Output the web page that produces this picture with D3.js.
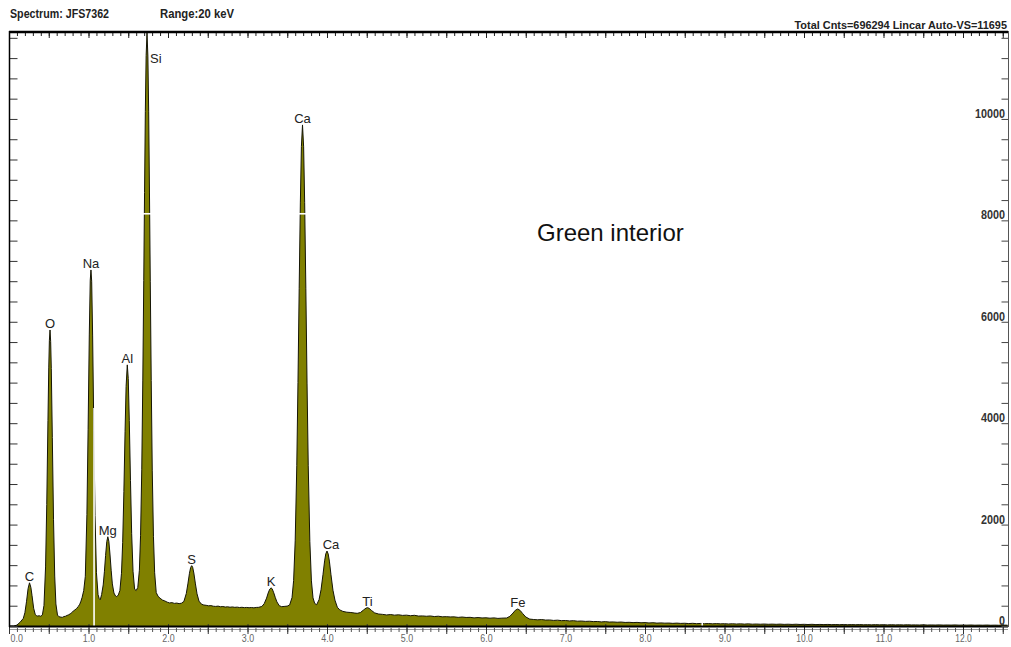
<!DOCTYPE html>
<html>
<head>
<meta charset="utf-8">
<script src="https://cdn.jsdelivr.net/npm/d3@7/dist/d3.min.js"></script>
<style>
  body { margin: 0; background: #fff; }
  svg { display: block; }
</style>
</head>
<body>
<svg id="chart" width="1011" height="647"></svg>
<script>
// EDS spectrum: [energy keV, counts]
const spectrum = [
  [0.00,0],[0.06,0],[0.10,18],[0.14,74],[0.18,150],[0.20,262],[0.22,478],[0.24,738],[0.258,852],
  [0.275,762],[0.29,596],[0.31,350],[0.33,228],[0.345,205],[0.36,196],[0.38,202],[0.40,192],[0.42,218],
  [0.44,405],[0.46,1165],[0.475,2395],[0.49,4055],[0.50,5090],[0.508,5635],[0.516,5838],[0.524,5610],
  [0.532,5080],[0.545,3715],[0.56,2095],[0.575,985],[0.59,435],[0.61,215],[0.63,182],[0.65,176],
  [0.67,170],[0.69,186],[0.71,192],[0.73,208],[0.75,221],[0.77,240],[0.79,262],[0.81,298],[0.83,318],
  [0.85,345],[0.87,382],[0.89,430],[0.905,490],[0.92,565],[0.94,700],[0.96,980],[0.98,2200],
  [0.995,3870],[1.01,5740],[1.022,6820],[1.031,7022],[1.04,6800],[1.052,5720],[1.067,3850],
  [1.082,2180],[1.10,1050],[1.12,620],[1.135,540],[1.148,518],[1.165,620],[1.185,810],[1.20,1070],
  [1.215,1390],[1.23,1665],[1.243,1760],[1.256,1670],[1.27,1420],[1.285,1100],[1.30,830],[1.32,650],
  [1.34,592],[1.355,578],[1.375,612],[1.395,700],[1.415,1040],[1.43,1650],[1.445,2650],[1.46,3840],
  [1.473,4725],[1.488,5150],[1.50,4880],[1.513,4055],[1.528,2870],[1.543,1820],[1.56,1080],[1.58,725],
  [1.60,700],[1.62,760],[1.64,1100],[1.655,1790],[1.67,3080],[1.683,4850],[1.695,6815],[1.705,8550],
  [1.715,10150],[1.725,11250],[1.736,11695],[1.747,11240],[1.757,10140],[1.767,8540],[1.777,6800],
  [1.789,4840],[1.802,3060],[1.817,1770],[1.832,1050],[1.852,660],[1.875,585],[1.90,548],[1.93,512],
  [1.96,494],[1.99,470],[2.02,455],[2.05,461],[2.08,446],[2.11,452],[2.14,441],[2.17,450],[2.20,485],
  [2.23,640],[2.25,830],[2.27,1040],[2.285,1155],[2.298,1190],[2.31,1160],[2.325,1045],[2.345,830],
  [2.365,635],[2.39,490],[2.42,432],[2.45,414],[2.48,408],[2.51,398],[2.54,402],[2.57,390],[2.60,386],
  [2.63,392],[2.66,380],[2.69,384],[2.72,374],[2.75,379],[2.78,370],[2.81,376],[2.84,368],[2.87,372],
  [2.90,364],[2.93,369],[2.96,362],[2.99,366],[3.02,360],[3.05,365],[3.08,358],[3.11,366],[3.14,368],
  [3.18,385],[3.21,440],[3.24,550],[3.26,650],[3.28,727],[3.296,752],[3.31,735],[3.33,655],[3.35,560],
  [3.37,475],[3.40,400],[3.43,381],[3.46,386],[3.50,392],[3.53,415],[3.56,560],[3.58,895],[3.60,1680],
  [3.62,3170],[3.635,4800],[3.65,6660],[3.665,8360],[3.678,9455],[3.692,9882],[3.706,9450],
  [3.719,8350],[3.734,6650],[3.749,4790],[3.764,3160],[3.784,1670],[3.804,890],[3.824,555],
  [3.845,445],[3.87,420],[3.90,520],[3.925,715],[3.95,1020],[3.97,1285],[3.985,1425],[4.00,1478],
  [4.015,1420],[4.03,1280],[4.05,1010],[4.075,705],[4.10,510],[4.13,370],[4.16,318],[4.20,288],
  [4.25,272],[4.30,266],[4.35,255],[4.38,250],[4.42,265],[4.46,316],[4.49,352],[4.51,362],[4.53,348],
  [4.56,306],[4.60,258],[4.65,236],[4.70,229],[4.75,218],[4.80,226],[4.85,214],[4.90,221],[4.95,209],
  [5.00,214],[5.05,203],[5.10,211],[5.15,196],[5.20,199],[5.25,192],[5.30,198],[5.35,186],[5.40,193],
  [5.45,181],[5.50,184],[5.55,179],[5.60,180],[5.65,170],[5.70,177],[5.75,168],[5.80,171],[5.85,160],
  [5.90,167],[5.95,159],[6.00,162],[6.05,154],[6.10,160],[6.15,150],[6.20,155],[6.26,158],[6.30,190],
  [6.34,256],[6.37,312],[6.40,336],[6.43,306],[6.46,248],[6.50,178],[6.55,136],[6.60,128],[6.65,122],
  [6.70,127],[6.75,117],[6.80,119],[6.85,110],[6.90,115],[6.95,106],[7.00,108],[7.05,100],[7.10,105],
  [7.15,95],[7.20,98],[7.25,91],[7.30,94],[7.35,87],[7.40,89],[7.45,81],[7.50,86],[7.55,78],[7.60,80],
  [7.65,74],[7.70,78],[7.75,70],[7.80,73],[7.85,67],[7.90,71],[7.95,64],[8.00,67],[8.05,60],[8.10,65],
  [8.15,57],[8.20,61],[8.25,56],[8.30,58],[8.35,52],[8.40,57],[8.45,51],[8.50,54],[8.55,48],[8.60,53],
  [8.65,46],[8.70,50],[8.75,45],[8.80,48],[8.85,43],[8.90,47],[8.95,42],[9.00,45],[9.05,40],[9.10,44],
  [9.15,39],[9.20,42],[9.25,37],[9.30,42],[9.35,36],[9.40,39],[9.45,35],[9.50,39],[9.55,34],[9.60,37],
  [9.65,33],[9.70,37],[9.75,32],[9.80,35],[9.85,31],[9.90,35],[9.95,30],[10.00,33],[10.05,29],
  [10.10,33],[10.15,28],[10.20,31],[10.25,28],[10.30,31],[10.35,27],[10.40,29],[10.45,26],[10.50,30],
  [10.55,25],[10.60,28],[10.65,25],[10.70,28],[10.75,24],[10.80,26],[10.85,23],[10.90,27],[10.95,23],
  [11.00,25],[11.05,22],[11.10,25],[11.15,22],[11.20,24],[11.25,21],[11.30,24],[11.35,21],[11.40,22],
  [11.45,20],[11.50,23],[11.55,19],[11.60,21],[11.65,19],[11.70,22],[11.75,18],[11.80,20],[11.85,18],
  [11.90,21],[11.95,17],[12.00,19],[12.05,17],[12.10,20],[12.15,16],[12.20,18],[12.25,16],[12.30,19],
  [12.35,15],[12.40,17],[12.45,15],[12.50,18],[12.56,16]
];

// element lines marked on the spectrum
const elements   = ["C", "O", "Na", "Mg", "Al", "Si", "S", "K", "Ca", "Ca", "Ti", "Fe"];
const lineEnergy = [0.258, 0.516, 1.031, 1.243, 1.488, 1.736, 2.298, 3.296, 3.692, 4.00, 4.51, 6.40];

// axis ticks and labels
const energyLabels = [0, 1, 2, 3, 4, 5, 6, 7, 8, 9, 10, 11, 12];
const countLabels  = [0, 2000, 4000, 6000, 8000, 10000];
const countTickStep = 400;
const fullScale = 11695;          // Auto-VS
const maxEnergy = 12.566;

// cursor / marker positions
const markerEnergies = [1.07, 8.72];
const markerCount = 8130;

const headerLeft  = "Spectrum: JFS7362";
const headerMid   = "Range:20  keV";
const headerRight = "Total Cnts=696294 Lincar  Auto-VS=11695";
const annotation  = "Green interior";

const svg = d3.select("#chart");
const narrow = "'Liberation Sans Narrow', 'Arial Narrow', 'Liberation Sans', Arial, sans-serif";
const sans = "'Liberation Sans', Arial, Helvetica, sans-serif";

const x = d3.scaleLinear().domain([0, maxEnergy]).range([9, 1008]);
const y = d3.scaleLinear().domain([0, fullScale]).range([626, 33]);

// filled spectrum
const area = d3.area().x(d => x(d[0])).y0(y(0)).y1(d => y(d[1]));
const line = d3.line().x(d => x(d[0])).y(d => y(d[1]));
svg.append("path").datum(spectrum).attr("d", area).attr("fill", "#808000");
svg.append("path").datum(spectrum).attr("d", line)
  .attr("fill", "none").attr("stroke", "#151505").attr("stroke-width", 1);

// white cursor markers
svg.append("line")
  .attr("x1", x(markerEnergies[0])).attr("x2", x(markerEnergies[0]))
  .attr("y1", y(4300)).attr("y2", y(0) + 14)
  .attr("stroke", "#fff").attr("stroke-width", 1.6);
svg.append("line")
  .attr("x1", x(markerEnergies[1])).attr("x2", x(markerEnergies[1]))
  .attr("y1", y(120)).attr("y2", y(0) + 6)
  .attr("stroke", "#fff").attr("stroke-width", 1.6);
[lineEnergy[5], lineEnergy[8]].forEach(e => {
  svg.append("line")
    .attr("x1", x(e - 0.07)).attr("x2", x(e + 0.07))
    .attr("y1", y(markerCount)).attr("y2", y(markerCount))
    .attr("stroke", "#fff").attr("stroke-width", 1.6);
});

// top energy ruler
const topMinor = d3.axisBottom(x).tickValues(d3.range(0, maxEnergy, 0.1)).tickSize(4).tickFormat("");
const topMajor = d3.axisBottom(x).tickValues(d3.range(0, maxEnergy, 0.5)).tickSize(6).tickFormat("");
[topMinor, topMajor].forEach(ax => {
  const g = svg.append("g").attr("transform", "translate(0,32)").call(ax);
  g.select(".domain").remove();
  g.selectAll("line").attr("stroke", "#222");
});
svg.append("line").attr("x1", 9).attr("x2", 1008).attr("y1", 32).attr("y2", 32)
  .attr("stroke", "#000").attr("stroke-width", 2.4);

// bottom energy axis
svg.append("line").attr("x1", 9).attr("x2", 1008).attr("y1", 629.5).attr("y2", 629.5)
  .attr("stroke", "#9a9a9a").attr("stroke-width", 1);
const botMinor = d3.axisBottom(x).tickValues(d3.range(0, maxEnergy, 0.1)).tickSize(4).tickFormat("");
const botMajor = d3.axisBottom(x).tickValues(d3.range(0, maxEnergy, 0.5)).tickSize(10).tickFormat("");
svg.append("g").attr("transform", "translate(0,628)").call(botMinor)
  .call(g => g.select(".domain").remove())
  .selectAll("line").attr("stroke", "#555");
svg.append("g").attr("transform", "translate(0,624)").call(botMajor)
  .call(g => g.select(".domain").remove())
  .selectAll("line").attr("stroke", "#333");
svg.append("line").attr("x1", 9).attr("x2", 1008).attr("y1", 626.5).attr("y2", 626.5)
  .attr("stroke", "#000").attr("stroke-width", 2);

const botLabels = d3.axisBottom(x).tickValues(energyLabels).tickSize(0)
  .tickFormat(d => d.toFixed(1));
const bl = svg.append("g").attr("transform", "translate(0,633)").call(botLabels);
bl.select(".domain").remove();
bl.selectAll("text")
  .attr("font-family", narrow).attr("font-size", 10).attr("fill", "#666")
  .attr("dy", "0.6em")
  .attr("textLength", d => d.toFixed(1).length * 4.1)
  .attr("lengthAdjust", "spacingAndGlyphs")
  .attr("text-anchor", d => d === 0 ? "start" : "middle")
  .attr("x", d => d === 0 ? 1 : 0);

// left count ruler
const leftAx = d3.axisRight(y).tickValues(d3.range(0, fullScale, countTickStep)).tickSize(8).tickFormat("");
const lg = svg.append("g").attr("transform", "translate(9.5,0)").call(leftAx);
lg.select(".domain").remove();
lg.selectAll("line").attr("stroke", "#333");
svg.append("line").attr("x1", 9.5).attr("x2", 9.5).attr("y1", 31).attr("y2", 627)
  .attr("stroke", "#000").attr("stroke-width", 1.5);

// right count axis
const rightAx = d3.axisLeft(y).tickValues(d3.range(0, fullScale, countTickStep)).tickSize(7).tickFormat("");
const rg = svg.append("g").attr("transform", "translate(1008.5,0)").call(rightAx);
rg.select(".domain").remove();
rg.selectAll("line").attr("stroke", "#444");
svg.append("line").attr("x1", 1008.5).attr("x2", 1008.5).attr("y1", 31).attr("y2", 627)
  .attr("stroke", "#555").attr("stroke-width", 1);
svg.append("g").selectAll("text").data(countLabels).join("text")
  .attr("x", 1005).attr("y", d => y(d) - 1)
  .attr("text-anchor", "end")
  .attr("font-family", narrow).attr("font-weight", "bold").attr("font-size", 12)
  .attr("textLength", d => String(d).length * 6)
  .attr("lengthAdjust", "spacingAndGlyphs")
  .attr("fill", "#333")
  .text(d => d);

// element labels above their peaks
function peakTop(e) {
  return d3.max(spectrum.filter(p => Math.abs(p[0] - e) <= 0.03), p => p[1]);
}
const labelG = svg.append("g");
elements.forEach((el, i) => {
  const e = lineEnergy[i];
  const top = peakTop(e);
  const py = y(top);
  const clipped = py < 45;
  labelG.append("text")
    .attr("x", clipped ? x(e) + 3 : x(e) + (i === 9 ? 4 : 0))
    .attr("y", clipped ? 63 : py - 2)
    .attr("text-anchor", clipped ? "start" : "middle")
    .attr("font-family", sans).attr("font-size", 13)
    .attr("fill", "#222")
    .text(el);
});

// sample annotation
svg.append("text")
  .attr("x", 537).attr("y", 241)
  .attr("font-family", sans).attr("font-size", 24).attr("fill", "#111")
  .text(annotation);

// header
svg.append("text").attr("x", 10).attr("y", 17.5)
  .attr("font-family", narrow).attr("font-weight", "bold").attr("font-size", 12)
  .attr("textLength", 99).attr("lengthAdjust", "spacingAndGlyphs")
  .attr("fill", "#222").text(headerLeft);
svg.append("text").attr("x", 160).attr("y", 17.5)
  .attr("font-family", narrow).attr("font-weight", "bold").attr("font-size", 12)
  .attr("textLength", 74).attr("lengthAdjust", "spacingAndGlyphs")
  .attr("fill", "#222").text(headerMid);
svg.append("text").attr("x", 1007).attr("y", 28.5)
  .attr("text-anchor", "end")
  .attr("font-family", sans).attr("font-weight", "bold").attr("font-size", 10.9)
  .attr("fill", "#222").text(headerRight);
</script>
</body>
</html>
